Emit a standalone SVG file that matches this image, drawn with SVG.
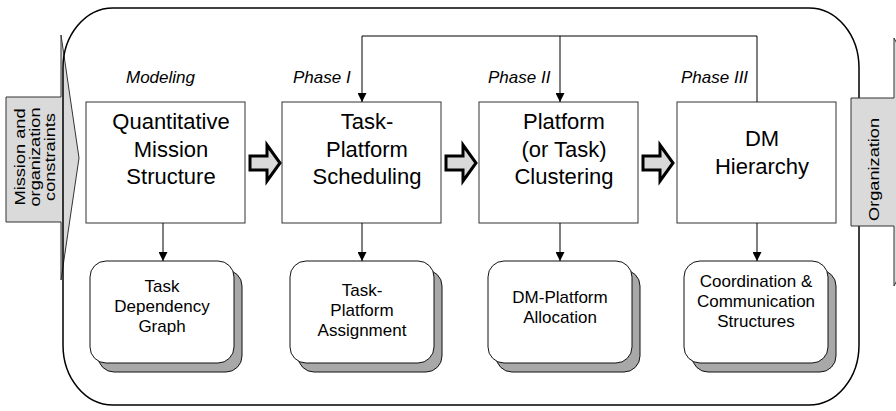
<svg xmlns="http://www.w3.org/2000/svg" width="896" height="411" viewBox="0 0 896 411">
  <defs>
    <marker id="tip" viewBox="0 0 10 10" refX="10" refY="5" markerWidth="9" markerHeight="9" markerUnits="userSpaceOnUse" orient="auto">
      <path d="M0,0 L10,5 L0,10 Z" fill="#000"/>
    </marker>
    <style>
      .box { fill: #fff; stroke: #333; stroke-width: 1; }
      .card { fill: #fff; stroke: #111; stroke-width: 1; }
      .shadow { fill: #a8a8a8; stroke: #111; stroke-width: 1; }
      .big { font-family: "Liberation Sans", Arial, sans-serif; font-size: 22px; fill: #000; text-anchor: middle; }
      .small { font-family: "Liberation Sans", Arial, sans-serif; font-size: 17px; fill: #000; text-anchor: middle; }
      .phase { font-family: "Liberation Sans", Arial, sans-serif; font-size: 17px; font-style: italic; fill: #000; }
      .side { font-family: "Liberation Sans", Arial, sans-serif; font-size: 14px; fill: #000; }
      .io { fill: #dadada; stroke: #333; stroke-width: 1; }
      .fat { fill: #d9d9d9; stroke: #000; stroke-width: 3; stroke-linejoin: miter; }
      .wire { fill: none; stroke: #000; stroke-width: 1; }
    </style>
  </defs>
  <rect width="896" height="411" fill="#fff"/>

  <!-- input: mission and organization constraints -->
  <g id="input">
    <polygon class="io" points="6,97 61,97 61,35 79,158 61,280 61,222 6,222"/>
    <text class="side" text-anchor="middle" transform="translate(25,157) rotate(-90) scale(1.3,1)">Mission and</text>
    <text class="side" text-anchor="middle" transform="translate(40,157) rotate(-90) scale(1.3,1)">organization</text>
    <text class="side" text-anchor="middle" transform="translate(55,157) rotate(-90) scale(1.3,1)">constraints</text>
  </g>

  <!-- process frame -->
  <rect id="frame" x="63" y="8" width="796" height="397" rx="50" ry="60" fill="none" stroke="#000" stroke-width="1.5"/>

  <!-- output: organization -->
  <g id="output">
    <polygon class="io" points="851,98 894,98 894,38 960,162 894,286 894,226 851,226"/>
    <text class="side" transform="translate(879,221) rotate(-90) scale(1.3,1)">Organization</text>
  </g>

  <!-- phase labels -->
  <g id="labels">
    <text class="phase" x="126" y="83">Modeling</text>
    <text class="phase" x="293" y="83">Phase I</text>
    <text class="phase" x="488" y="83">Phase II</text>
    <text class="phase" x="681" y="83">Phase III</text>
  </g>

  <!-- process steps -->
  <g id="step-modeling">
    <rect class="box" x="86" y="102" width="159" height="121"/>
    <text class="big" x="171" y="129">Quantitative</text>
    <text class="big" x="171" y="157">Mission</text>
    <text class="big" x="171" y="184">Structure</text>
  </g>
  <g id="step-scheduling">
    <rect class="box" x="282" y="102" width="159" height="121"/>
    <text class="big" x="367" y="129">Task-</text>
    <text class="big" x="367" y="157">Platform</text>
    <text class="big" x="367" y="184">Scheduling</text>
  </g>
  <g id="step-clustering">
    <rect class="box" x="479" y="102" width="159" height="121"/>
    <text class="big" x="564" y="129">Platform</text>
    <text class="big" x="564" y="157">(or Task)</text>
    <text class="big" x="564" y="184">Clustering</text>
  </g>
  <g id="step-hierarchy">
    <rect class="box" x="677" y="102" width="159" height="121"/>
    <text class="big" x="762" y="146">DM</text>
    <text class="big" x="762" y="174">Hierarchy</text>
  </g>

  <!-- results -->
  <g id="result-graph">
    <rect class="shadow" x="98" y="270" width="144" height="102" rx="16"/>
    <rect class="card" x="90" y="261" width="144" height="102" rx="16"/>
    <text class="small" x="162" y="292">Task</text>
    <text class="small" x="162" y="312">Dependency</text>
    <text class="small" x="162" y="332">Graph</text>
  </g>
  <g id="result-assignment">
    <rect class="shadow" x="298" y="270" width="144" height="102" rx="16"/>
    <rect class="card" x="290" y="261" width="144" height="102" rx="16"/>
    <text class="small" x="362" y="296">Task-</text>
    <text class="small" x="362" y="316">Platform</text>
    <text class="small" x="362" y="336">Assignment</text>
  </g>
  <g id="result-allocation">
    <rect class="shadow" x="496" y="270" width="144" height="102" rx="16"/>
    <rect class="card" x="488" y="261" width="144" height="102" rx="16"/>
    <text class="small" x="560" y="303">DM-Platform</text>
    <text class="small" x="560" y="323">Allocation</text>
  </g>
  <g id="result-structures">
    <rect class="shadow" x="692" y="270" width="144" height="102" rx="16"/>
    <rect class="card" x="684" y="261" width="144" height="102" rx="16"/>
    <text class="small" x="756" y="287">Coordination &amp;</text>
    <text class="small" x="756" y="307">Communication</text>
    <text class="small" x="756" y="327">Structures</text>
  </g>

  <!-- connectors -->
  <g id="connectors">
    <path class="fat" d="M250,156 H267 V145 L280,163 L267,181 V170 H250 Z"/>
    <path class="fat" d="M446,156 H463 V145 L476,163 L463,181 V170 H446 Z"/>
    <path class="fat" d="M643,156 H660 V145 L673,163 L660,181 V170 H643 Z"/>

    <line class="wire" x1="163" y1="223" x2="163" y2="261" marker-end="url(#tip)"/>
    <line class="wire" x1="362" y1="223" x2="362" y2="261" marker-end="url(#tip)"/>
    <line class="wire" x1="560" y1="223" x2="560" y2="261" marker-end="url(#tip)"/>
    <line class="wire" x1="757" y1="223" x2="757" y2="261" marker-end="url(#tip)"/>

    <polyline class="wire" points="757,102 757,36 362,36"/>
    <line class="wire" x1="362" y1="36" x2="362" y2="102" marker-end="url(#tip)"/>
    <line class="wire" x1="560" y1="36" x2="560" y2="102" marker-end="url(#tip)"/>
  </g>
</svg>
